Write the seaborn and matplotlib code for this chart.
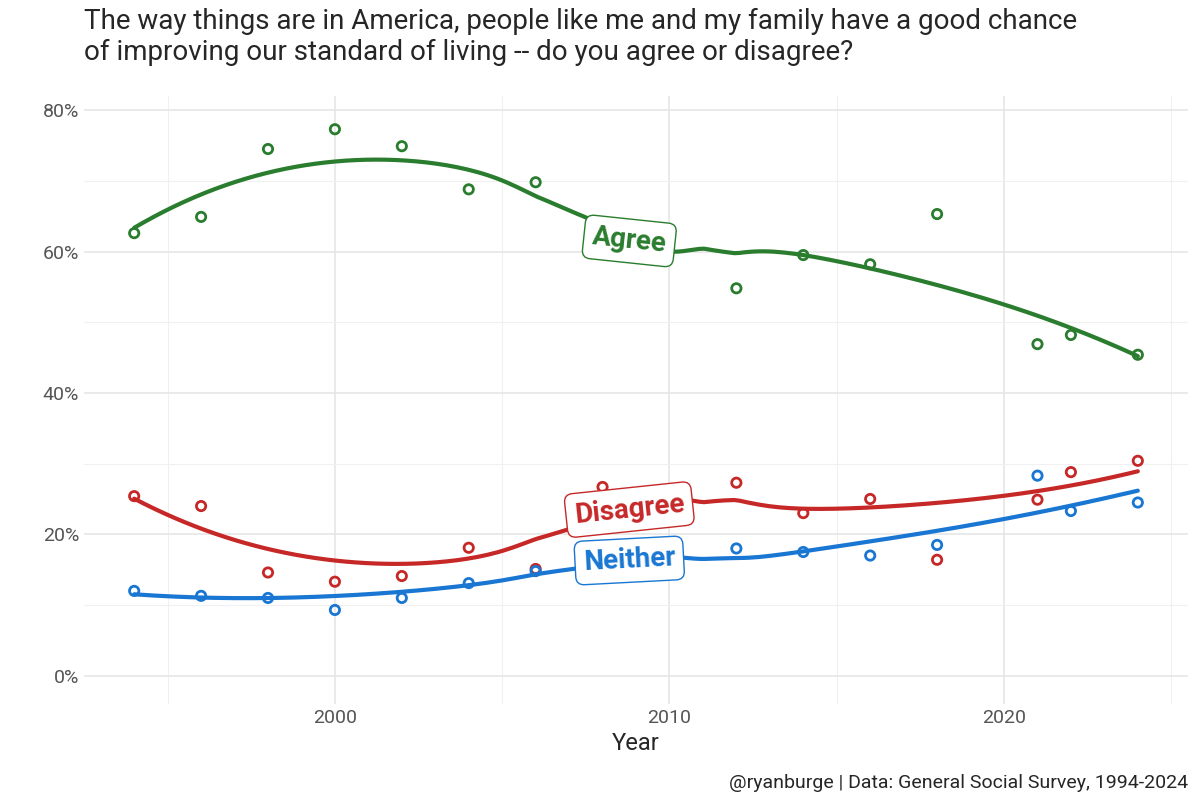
import numpy as np
import pandas as pd
import seaborn as sns
import matplotlib.pyplot as plt

years = [1994, 1996, 1998, 2000, 2002, 2004, 2006, 2008, 2012, 2014, 2016, 2018, 2021, 2022, 2024]
agree = [62.6, 64.9, 74.5, 77.3, 74.9, 68.8, 69.8, 63.0, 54.8, 59.5, 58.2, 65.3, 46.9, 48.2, 45.4]
disagree = [25.4, 24.0, 14.6, 13.3, 14.1, 18.1, 15.1, 26.7, 27.3, 23.0, 25.0, 16.4, 24.9, 28.8, 30.4]
neither = [12.0, 11.3, 11.0, 9.3, 11.0, 13.1, 14.8, 16.0, 18.0, 17.5, 17.0, 18.5, 28.3, 23.3, 24.5]

colors = {"Agree": "#2a7d2e", "Disagree": "#c62828", "Neither": "#1976d2"}

df = pd.DataFrame({"year": years * 3,
                   "pct": agree + disagree + neither,
                   "resp": ["Agree"] * 15 + ["Disagree"] * 15 + ["Neither"] * 15})


# simple loess (span .75, degree 2), like geom_smooth default
def loess(x, y, grid, span=0.75):
    x = np.asarray(x, float); y = np.asarray(y, float)
    k = int(np.ceil(span * len(x)))
    out = []
    for g in grid:
        d = np.abs(x - g)
        h = np.sort(d)[k - 1]
        w = (1 - (d / h) ** 3) ** 3
        w[d >= h] = 0
        X = np.vstack([np.ones_like(x), x - g, (x - g) ** 2]).T
        W = np.diag(w)
        beta = np.linalg.lstsq(X.T @ W @ X, X.T @ W @ y, rcond=None)[0]
        out.append(beta[0])
    return np.array(out)


sns.set_style("whitegrid")
plt.rcParams["font.family"] = ["Roboto", "DejaVu Sans"]

fig, ax = plt.subplots(figsize=(12, 8), dpi=100)
grid = np.linspace(1994, 2024, 200)
for resp, vals in [("Agree", agree), ("Disagree", disagree), ("Neither", neither)]:
    sm = pd.DataFrame({"year": grid, "pct": loess(years, vals, grid)})
    sns.lineplot(data=sm, x="year", y="pct", color=colors[resp], lw=3, ax=ax)
sns.scatterplot(data=df, x="year", y="pct", hue="resp", palette=colors, facecolor="none",
                s=45, linewidth=2, legend=False, ax=ax)
# scatter with hollow markers
for coll in ax.collections:
    fc = coll.get_facecolors()
    coll.set_edgecolors(fc if len(fc) else coll.get_edgecolors())
    coll.set_facecolors("none")

labels = [("Agree", 2008.8, 61.5, -6), ("Disagree", 2008.8, 23.5, 6), ("Neither", 2008.8, 16.3, 3)]
for name, x, y, rot in labels:
    ax.text(x, y, name, color=colors[name], fontsize=20, fontweight="bold", rotation=rot,
            ha="center", va="center", zorder=5,
            bbox=dict(boxstyle="round,pad=0.3", fc="white", ec=colors[name], lw=1))

ax.set_xlim(1992.5, 2025.5)
ax.set_ylim(-4, 82)
ax.set_xticks([2000, 2010, 2020])
ax.set_xticks([1995, 2005, 2015, 2025], minor=True)
ax.set_yticks([0, 20, 40, 60, 80])
ax.set_yticks([10, 30, 50, 70], minor=True)
ax.set_yticklabels([f"{v}%" for v in [0, 20, 40, 60, 80]])
ax.grid(which="major", color="#e6e6e6", lw=1.2)
ax.grid(which="minor", color="#f0f0f0", lw=0.8)
for s in ax.spines.values():
    s.set_visible(False)
ax.tick_params(labelsize=14, colors="#555555", length=0)
ax.set_xlabel("Year", fontsize=17)
ax.set_ylabel("")
fig.suptitle("The way things are in America, people like me and my family have a good chance\n"
             "of improving our standard of living -- do you agree or disagree?",
             x=0.07, y=0.99, ha="left", fontsize=20)
fig.text(0.99, 0.015, "@ryanburge | Data: General Social Survey, 1994-2024", ha="right", fontsize=14)
fig.subplots_adjust(left=0.07, right=0.99, top=0.88, bottom=0.12)
fig.savefig("out.png")
